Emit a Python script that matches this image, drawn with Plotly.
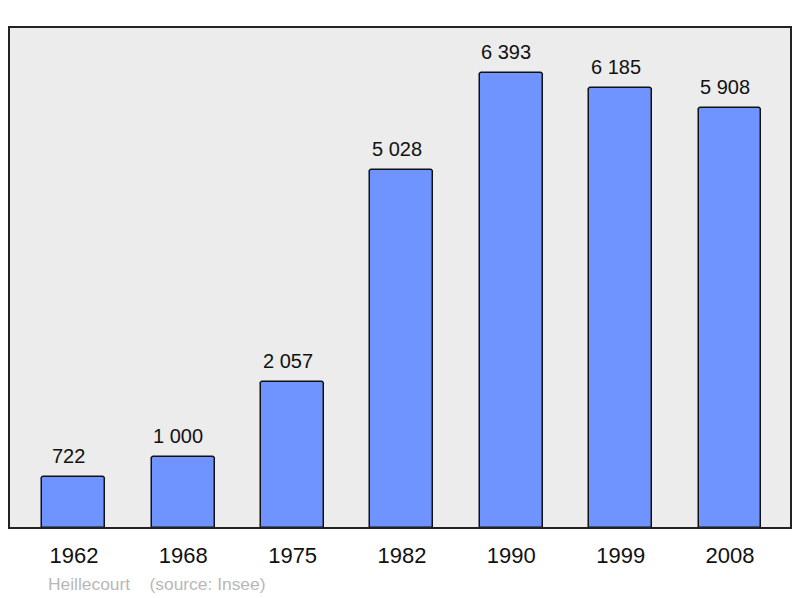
import plotly.graph_objects as go

years = ["1962", "1968", "1975", "1982", "1990", "1999", "2008"]
population = [722, 1000, 2057, 5028, 6393, 6185, 5908]
labels = ["722", "1 000", "2 057", "5 028", "6 393", "6 185", "5 908"]
source_text = "Heillecourt    (source: Insee)"

# page has an 8px body margin; compensate
W, H = 792, 590
L, R, T, B = 1, 9, 19, 70
FONT = "Liberation Sans, Arial, sans-serif"

fig = go.Figure()
fig.add_trace(go.Bar(
    x=list(range(len(years))), y=population,
    width=0.576,
    marker=dict(color="#7094ff", line=dict(color="#111111", width=1.5), cornerradius=3),
    hoverinfo="skip",
))

for i, (v, lab) in enumerate(zip(population, labels)):
    fig.add_annotation(x=i, y=v, text=lab, showarrow=False, yanchor="bottom",
                       yshift=8, xshift=-5, font=dict(size=20, color="#111111", family=FONT))

fig.add_annotation(xref="paper", yref="paper", x=(46 - 9) / 782, y=(528 - 584) / 501,
                   xanchor="left", yanchor="middle", text=source_text, showarrow=False,
                   font=dict(size=17.4, color="#b8b8b8", family=FONT))

fig.add_shape(type="rect", xref="paper", yref="paper", x0=0, x1=1, y0=0, y1=1,
              line=dict(color="#222222", width=2), fillcolor="rgba(0,0,0,0)", layer="above")

fig.update_layout(
    width=W, height=H,
    margin=dict(l=L, r=R, t=T, b=B),
    paper_bgcolor="white", plot_bgcolor="#ececec",
    showlegend=False, bargap=0,
    font=dict(family=FONT, color="#111111"),
    xaxis=dict(range=[-0.594, 6.558], tickmode="array", tickvals=list(range(len(years))),
               ticktext=years, showgrid=False, zeroline=False, showline=False,
               tickfont=dict(size=22, color="#111111"), ticks="", ticklabelstandoff=12,
               fixedrange=True),
    yaxis=dict(range=[0, 7039], showgrid=False, zeroline=False, showticklabels=False,
               showline=False, fixedrange=True),
)

fig.write_html("out.html")
